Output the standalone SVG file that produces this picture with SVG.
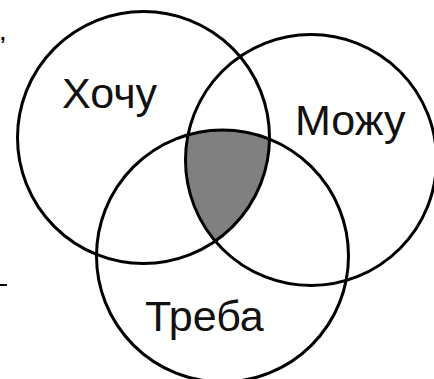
<svg xmlns="http://www.w3.org/2000/svg" width="434" height="379" viewBox="0 0 434 379">
  <style>
    .ring { fill: none; stroke: #000; stroke-width: 3; }
    .lbl { font-family: "Liberation Sans", Arial, sans-serif; font-size: 43px; fill: #111; }
  </style>
  <defs>
    <clipPath id="c1"><circle cx="143.5" cy="137.5" r="126"/></clipPath>
    <clipPath id="c2"><circle cx="311" cy="160" r="125.5"/></clipPath>
  </defs>
  <rect width="434" height="379" fill="#fff"/>
  <g id="overlap" clip-path="url(#c1)">
    <g clip-path="url(#c2)">
      <circle cx="222.5" cy="256" r="126" fill="#808080"/>
    </g>
  </g>
  <g id="connectors"></g>
  <g id="node-hochu">
    <circle class="ring" cx="143.5" cy="137.5" r="126"/>
    <text class="lbl" x="62" y="108">Хочу</text>
  </g>
  <g id="node-mozhu">
    <circle class="ring" cx="311" cy="160" r="125.5"/>
    <text class="lbl" x="295" y="135">Можу</text>
  </g>
  <g id="node-treba">
    <circle class="ring" cx="222.5" cy="256" r="126"/>
    <text class="lbl" x="145" y="331">Треба</text>
  </g>
  <g id="fragments">
    <text x="0" y="40" style="font-family: 'Liberation Sans', Arial, sans-serif; font-size: 20px; font-weight: bold;" fill="#000">,</text>
    <line x1="0" y1="285" x2="7" y2="285" stroke="#000" stroke-width="2"/>
  </g>
</svg>
